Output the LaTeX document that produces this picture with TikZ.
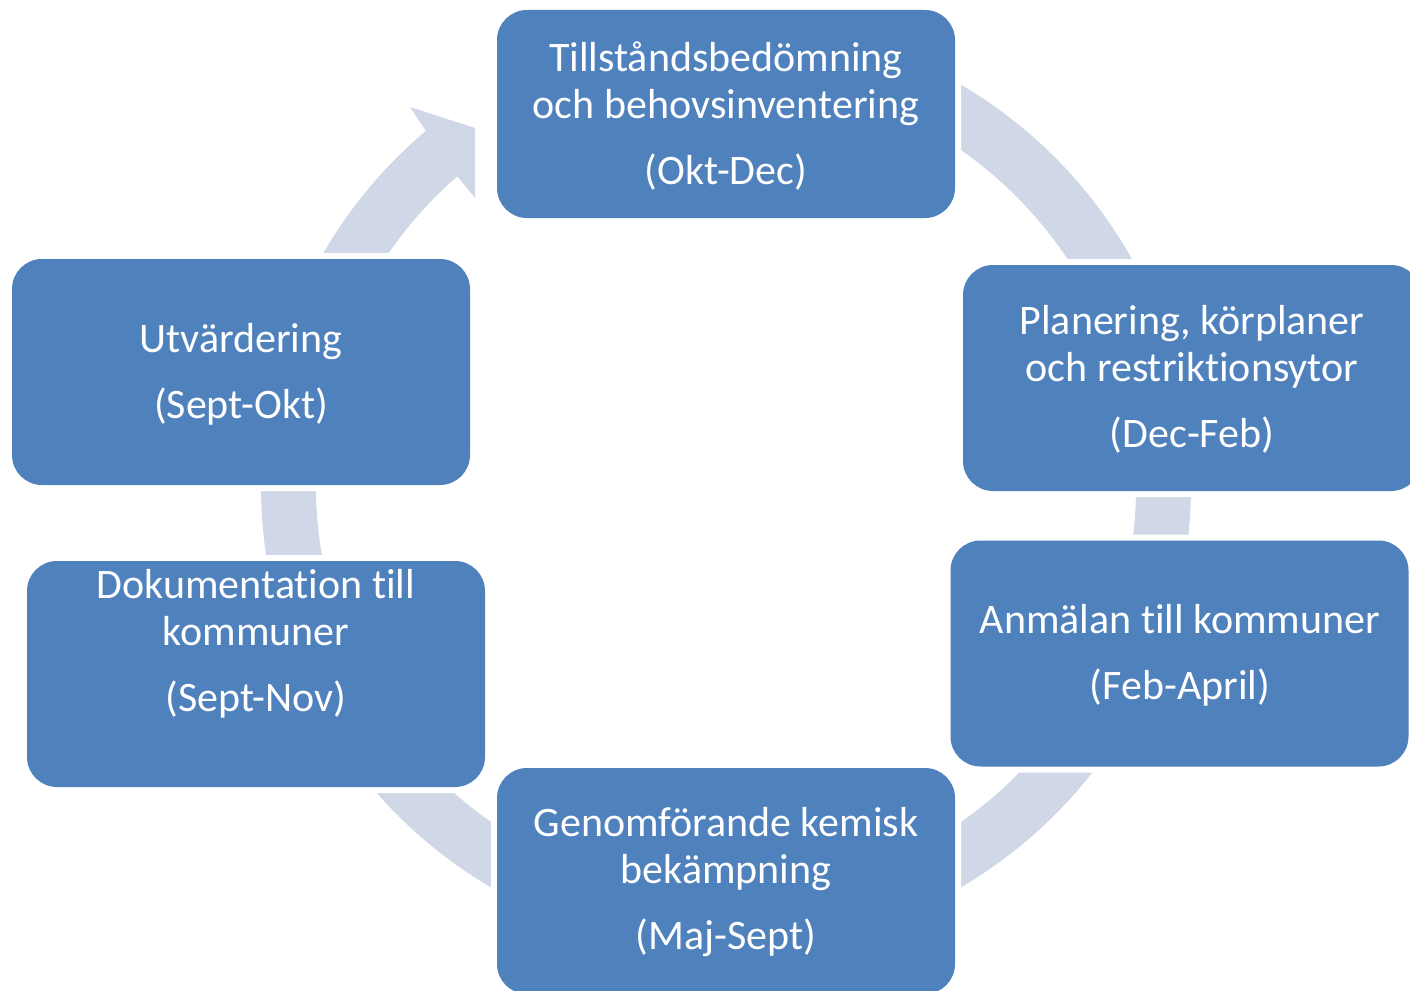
\documentclass[tikz,border=0pt]{standalone}
\usepackage{fontspec}
\setmainfont{Carlito}[Ligatures={NoCommon}]
\definecolor{boxblue}{HTML}{4F81BD}
\definecolor{ringgray}{HTML}{D0D8E8}
\begin{document}
\begin{tikzpicture}[x=1pt,y=-1pt,
  box/.style={rectangle, rounded corners=30pt, fill=boxblue, inner sep=0pt,
    minimum width=458pt, minimum height=226pt,
    preaction={draw=white, line width=12pt}},
  lbl/.style={text=white, align=center, inner sep=0pt,
    font=\fontsize{42}{47}\selectfont}]
\useasboundingbox (0,0) rectangle (1410,990);
\clip (0,0) rectangle (1410,990);
% ring with arrowhead
\coordinate (c) at (726,486);
\coordinate (tip) at (475,128);
\coordinate (owing) at (410,107);
\coordinate (iwing) at (475,198);
\fill[ringgray] ([shift={(c)}]229.8:465) arc[start angle=229.8, end angle=-95, radius=465]
  -- ([shift={(c)}]-95:410) arc[start angle=-95, end angle=229.05, radius=410]
  -- (iwing) -- (tip) -- (owing) -- cycle;
% boxes
\node[box, minimum height=208pt] (b1) at (726,114) {};
\node[box] (b2) at (1192,378) {};
\node[box] (b3) at (1179.5,653.5) {};
\node[box] (b4) at (726,881) {};
\node[box] (b5) at (256,674) {};
\node[box] (b6) at (241,372) {};
% texts
\node[lbl] (t1) at (726,116) {Tillståndsbedömning\\och behovsinventering\\[19pt](Okt-Dec)};
\node[lbl] (t2) at (1192,379.5) {Planering, körplaner\\och restriktionsytor\\[19pt](Dec-Feb)};
\node[lbl] (t3) at (1180,655) {Anmälan till kommuner\\[19pt](Feb-April)};
\node[lbl] (t4) at (726,882.5) {Genomförande kemisk\\bekämpning\\[19pt](Maj-Sept)};
\node[lbl] (t5) at (256,643.5) {Dokumentation till\\kommuner\\[19pt](Sept-Nov)};
\node[lbl] (t6) at (241,374) {Utvärdering\\[19pt](Sept-Okt)};
\end{tikzpicture}
\end{document}
